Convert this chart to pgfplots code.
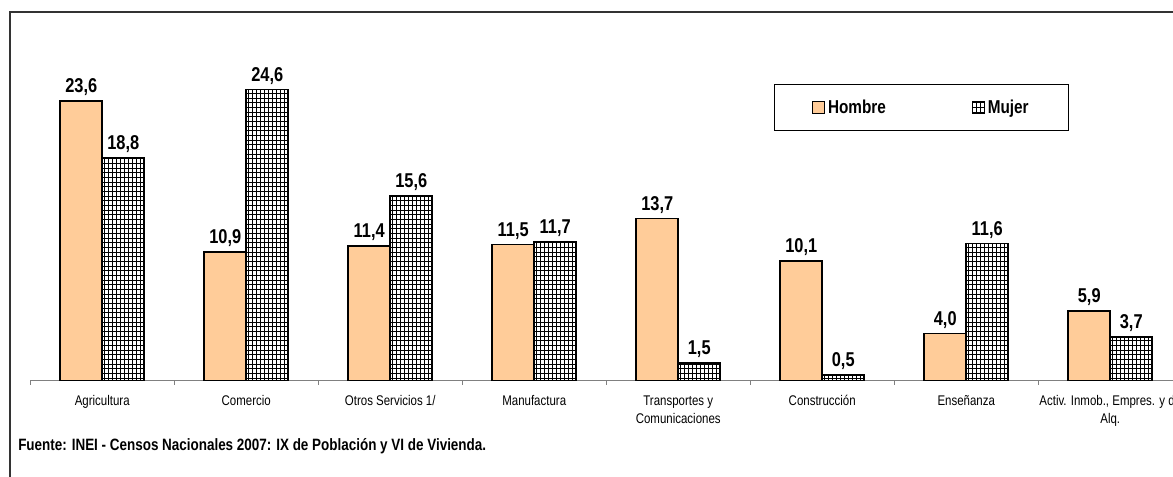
\documentclass[border=0pt]{standalone}
\usepackage{fontspec}
\setmainfont{Liberation Sans}[FakeStretch=0.82]
\usepackage{pgfplots}
\pgfplotsset{compat=1.18}
\usetikzlibrary{patterns}
\definecolor{hombre}{HTML}{FFCC99}
\pgfdeclarepatternformonly{mygrid}{\pgfqpoint{-1pt}{-1pt}}{\pgfqpoint{4pt}{4pt}}{\pgfqpoint{3pt}{3.5pt}}{%
  \pgfsetlinewidth{0.45pt}%
  \pgfpathmoveto{\pgfqpoint{0pt}{-0.5pt}}\pgfpathlineto{\pgfqpoint{0pt}{4pt}}%
  \pgfpathmoveto{\pgfqpoint{-0.5pt}{0pt}}\pgfpathlineto{\pgfqpoint{3.5pt}{0pt}}%
  \pgfusepath{stroke}}
\pgfplotsset{sqlegend/.style={legend image code/.code={\draw[##1, line width=1pt] (0pt,-4.5pt) rectangle (9pt,4.5pt);}}}
\begin{document}
\begin{tikzpicture}[x=1pt,y=1pt]
\useasboundingbox (0,0) rectangle (879.75,357);
\clip (0,0) rectangle (879.75,357);
\draw[black!80, line width=0.8pt] (7.5,348) rectangle (900,-20);
\begin{axis}[
  at={(21,80.25)}, anchor=south west,
  scale only axis, width=864pt, height=266.6pt,
  xmin=-0.5, xmax=7.5, ymin=0, ymax=30,
  axis x line*=bottom, axis y line=none,
  x axis line style={gray, line width=0.75pt},
  ybar=0pt, bar width=31.5pt,
  xtick={0,...,7},
  xticklabels={Agricultura, Comercio, Otros Servicios 1/, Manufactura, {Transportes y\\Comunicaciones}, Construcción, Enseñanza, {Activ. Inmob., Empres. y de\\Alq.}},
  major tick length=0pt,
  extra x ticks={-0.5,0.5,1.5,2.5,3.5,4.5,5.5,6.5,7.5},
  extra x tick labels={},
  extra x tick style={major tick length=3pt, tick align=outside, tick style={gray, line width=0.75pt}},
  xticklabel style={font=\fontsize{10.5}{13.5}\selectfont, align=center, yshift=-7.5pt},
  nodes near coords={\pgfmathprintnumber[fixed,fixed zerofill,precision=1,use comma,assume math mode=true]{\pgfplotspointmeta}},
  nodes near coords style={font=\bfseries\fontsize{15}{17}\selectfont},
  legend columns=2,
  legend style={at={(0.6458,0.8354)}, anchor=north west, draw=black, line width=0.75pt,
    font=\bfseries\fontsize{14}{16}\selectfont, inner xsep=28pt, inner ysep=9.5pt,
    /tikz/every even column/.append style={column sep=62.5pt}},
]
\addplot[fill=hombre, draw=black, line width=1.2pt, sqlegend]
  coordinates {(0,23.6) (1,10.9) (2,11.4) (3,11.5) (4,13.7) (5,10.1) (6,4.0) (7,5.9)};
\addlegendentry{Hombre}
\addplot[fill=white, postaction={pattern=mygrid}, draw=black, line width=1.2pt, sqlegend]
  coordinates {(0,18.8) (1,24.6) (2,15.6) (3,11.7) (4,1.5) (5,0.5) (6,11.6) (7,3.7)};
\addlegendentry{Mujer}
\end{axis}
\node[anchor=west, inner sep=0pt, font=\bfseries\fontsize{12.3}{14}\selectfont] at (13.5,22.5) {Fuente: INEI - Censos Nacionales 2007: IX de Población y VI de Vivienda.};
\end{tikzpicture}
\end{document}
